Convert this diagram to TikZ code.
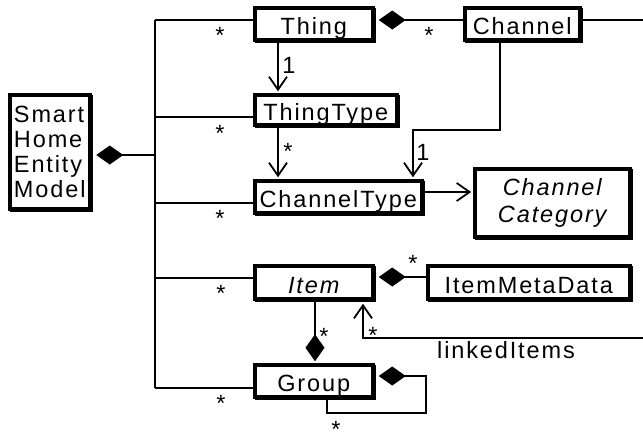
\documentclass[tikz,border=0pt]{standalone}
\usepackage{fontspec}
\setmainfont{Liberation Sans}
\newfontfamily\spaced{Liberation Sans}[LetterSpace=8]
\usetikzlibrary{arrows.meta,shadows}

\begin{document}
\begin{tikzpicture}[x=1pt,y=-1pt,
  cls/.style={draw, line width=3.5pt, fill=white, inner sep=0pt, align=center,
    general shadow={draw=black, fill=black, line width=3.5pt,
      shadow xshift=1.5pt, shadow yshift=-1.5pt},
    font=\spaced\fontsize{23.5}{25}\selectfont},
  oneline/.style={text height=22pt, text depth=0pt},
  conn/.style={line width=1.8pt},
  arr/.style={conn, -{Straight Barb[length=13pt,width=18pt]}},
  comp/.style={conn, {Diamond[length=27pt,width=19pt]}-},
  mult/.style={anchor=base, inner sep=0pt, font=\fontsize{23.5}{25}\selectfont},
]
\useasboundingbox (0,0) rectangle (643,432);

% classes
\node[cls, minimum width=80pt, minimum height=114pt, align=left] (shem) at (49.75,151.75) {Smart\\Home\\Entity\\Model};
\node[cls, oneline, minimum width=118pt, minimum height=32pt] (thing) at (313.75,23.75) {Thing};
\node[cls, oneline, minimum width=115pt, minimum height=32pt] (channel) at (522.25,23.75) {Channel};
\node[cls, oneline, minimum width=142pt, minimum height=30pt] (thingtype) at (325.75,109.75) {ThingType};
\node[cls, oneline, minimum width=167pt, minimum height=32pt] (channeltype) at (338.25,196.75) {ChannelType};
\node[cls, minimum width=155pt, minimum height=68pt, font=\spaced\fontsize{23.5}{27}\selectfont\itshape] (category) at (552.25,202.75) {Channel\\Category};
\node[cls, oneline, minimum width=118pt, minimum height=33pt] (item) at (313.75,282.25) {\itshape Item};
\node[cls, oneline, minimum width=202pt, minimum height=33pt] (meta) at (528.75,282.25) {ItemMetaData};
\node[cls, oneline, minimum width=118pt, minimum height=32pt] (group) at (313.75,380.75) {Group};

% trunk from the model to every class
\coordinate (r1) at (155,20);
\coordinate (r2) at (155,117);
\coordinate (r3) at (155,203);
\coordinate (r4) at (155,278);
\coordinate (r5) at (155,388);
\coordinate (rm) at (155,155);
\draw[conn] (r1) -- (r5);
\draw[comp, shorten <=4.75pt] (shem.east |- rm) -- (rm);
\draw[conn] (r1) -- (r1 -| thing.west);
\draw[conn] (r2) -- (r2 -| thingtype.west);
\draw[conn] (r3) -- (r3 -| channeltype.west);
\draw[conn] (r4) -- (r4 -| item.west);
\draw[conn] (r5) -- (r5 -| group.west);

% thing and channel
\coordinate (chanOut) at (643,20);
\draw[comp, shorten <=4.25pt] (thing.east |- r1) -- (channel.west |- r1);
\draw[conn] (channel.east |- r1) -- (chanOut);
\coordinate (v1) at (278,0);
\draw[arr, shorten >=1.75pt] (v1 |- thing.south) -- (v1 |- thingtype.north);
\draw[arr, shorten >=1.75pt] (v1 |- thingtype.south) -- (v1 |- channeltype.north);
\coordinate (v2) at (500,0);
\coordinate (v3) at (413,130);
\draw[arr, shorten >=1.75pt] (v2 |- channel.south) |- (v3) -- (v3 |- channeltype.north);
\coordinate (h1) at (0,192);
\draw[arr, shorten >=1.75pt] (channeltype.east |- h1) -- (category.west |- h1);

% items and groups
\coordinate (h2) at (0,277);
\draw[comp, shorten <=4.25pt] (item.east |- h2) -- (meta.west |- h2);
\coordinate (v4) at (315,0);
\draw[comp, shorten <=1.75pt] (v4 |- group.north) -- (v4 |- item.south);
\coordinate (lkOut) at (643,338);
\coordinate (lk) at (363,338);
\draw[arr, shorten >=3.25pt] (lkOut) -- (lk) -- (lk |- item.south);
\coordinate (gy) at (0,376);
\coordinate (g1) at (426,413);
\coordinate (g2) at (327,0);
\draw[comp, shorten <=4.25pt] (group.east |- gy) -| (g1) -| (g2 |- group.south);

% multiplicities and role names
\node[mult] (m1) at (220,43.2) {*};
\node[mult] (m2) at (220,141.2) {*};
\node[mult] (m3) at (220,226.2) {*};
\node[mult] (m4) at (221,301.2) {*};
\node[mult] (m5) at (221,411.2) {*};
\node[mult] (m6) at (429,43.2) {*};
\node[mult] (m7) at (288,159.2) {*};
\node[mult] (m8) at (413,271.2) {*};
\node[mult] (m9) at (324,344.2) {*};
\node[mult] (m10) at (373,343.2) {*};
% the lowest star sits on the bottom margin: keep its box flat
\node[mult] (m11) at (336,424.5) {\smash{\raisebox{-13.2pt}{*}}};
\node[mult] (n1) at (289,73.4) {1};
\node[mult] (n2) at (423,160.4) {1};
\node[anchor=base, inner sep=0pt, font=\spaced\fontsize{23.5}{25}\selectfont] (role) at (506,358) {linkedItems};
\end{tikzpicture}
\end{document}
